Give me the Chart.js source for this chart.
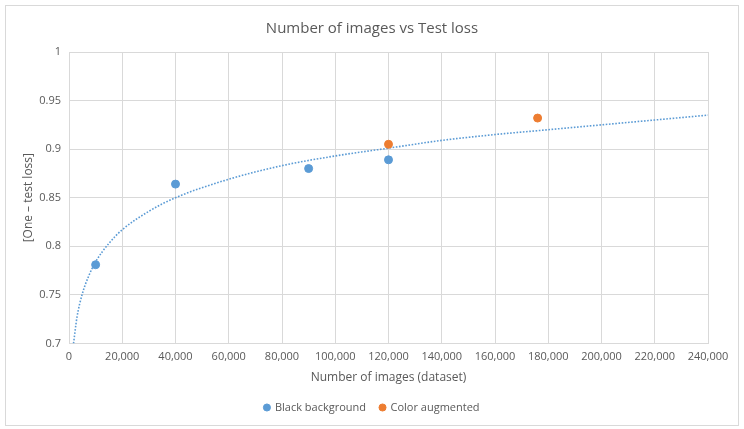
<!DOCTYPE html>
<html>
<head>
<meta charset="utf-8">
<script src="https://cdn.jsdelivr.net/npm/chart.js@4.4.1/dist/chart.umd.min.js"></script>
<style>
    body { margin: 0; background: #fff; }
    #frame {
        position: absolute; left: 5px; top: 5px;
        width: 732px; height: 419px;
        border: 1px solid #d9d9d9; background: #fff;
    }
    canvas { display: block; }
</style>
</head>
<body>
<div id="frame"><canvas id="chart" width="732" height="419"></canvas></div>
<script>
// ── Data ──
const blackX = [10000, 40000, 90000, 120000];
const blackY = [0.781, 0.864, 0.880, 0.889];
const colorX = [120000, 176000];
const colorY = [0.905, 0.932];

// Trendline (dotted curve)
const trendX = [1700, 3000, 5000, 7500, 10000, 15000, 20000, 30000, 40000, 60000, 80000, 100000, 120000, 140000, 160000, 180000, 200000, 220000, 240000];
const trendY = [0.700, 0.727, 0.751, 0.770, 0.784, 0.803, 0.817, 0.836, 0.850, 0.869, 0.883, 0.893, 0.901, 0.909, 0.915, 0.920, 0.925, 0.930, 0.935];

const xTicks = [0, 20000, 40000, 60000, 80000, 100000, 120000, 140000, 160000, 180000, 200000, 220000, 240000];
const yTicks = [0.7, 0.75, 0.8, 0.85, 0.9, 0.95, 1];

const TEXT = '#595959';
const GRID = '#d9d9d9';
const FONT = "'Open Sans', sans-serif";

const toPoints = (xs, ys) => xs.map((x, i) => ({ x: x, y: ys[i] }));

Chart.defaults.font.family = FONT;
Chart.defaults.color = TEXT;

new Chart(document.getElementById('chart'), {
    type: 'scatter',
    data: {
        datasets: [
            {
                label: 'Black background',
                data: toPoints(blackX, blackY),
                backgroundColor: '#5b9bd5',
                borderColor: '#5b9bd5',
                pointRadius: 4,
                pointStyle: 'circle'
            },
            {
                label: 'Color augmented',
                data: toPoints(colorX, colorY),
                backgroundColor: '#ed7d31',
                borderColor: '#ed7d31',
                pointRadius: 4,
                pointStyle: 'circle'
            },
            {
                label: 'trend',
                data: toPoints(trendX, trendY),
                showLine: true,
                borderColor: '#5b9bd5',
                borderWidth: 1.6,
                borderDash: [1.6, 1.6],
                pointRadius: 0,
                cubicInterpolationMode: 'monotone',
                fill: false
            }
        ]
    },
    options: {
        responsive: false,
        animation: false,
        // equal side padding keeps title and legend centred in the frame
        layout: { padding: { left: 30, right: 30, top: 4, bottom: 2 } },
        scales: {
            x: {
                type: 'linear',
                min: 0,
                max: 240000,
                afterBuildTicks: (s) => { s.ticks = xTicks.map(v => ({ value: v })); },
                ticks: {
                    color: TEXT,
                    font: { size: 11 },
                    padding: 7,
                    maxRotation: 0,
                    callback: (v) => v.toLocaleString('en-US')
                },
                grid: { color: GRID, drawTicks: false },
                border: { color: GRID },
                title: {
                    display: true,
                    text: 'Number of images (dataset)',
                    color: TEXT,
                    font: { size: 12 },
                    padding: { top: 0, bottom: 3 }
                }
            },
            y: {
                min: 0.7,
                max: 1,
                afterBuildTicks: (s) => { s.ticks = yTicks.map(v => ({ value: v })); },
                afterFit: (s) => { s.width = 33; },
                ticks: {
                    color: TEXT,
                    font: { size: 11 },
                    padding: 8,
                    callback: (v) => String(+v.toFixed(2))
                },
                grid: { color: GRID, drawTicks: false },
                border: { color: GRID },
                title: {
                    display: true,
                    text: '[One – test loss]',
                    color: TEXT,
                    font: { size: 12 },
                    padding: { top: -15, bottom: 0 }
                }
            }
        },
        plugins: {
            title: {
                display: true,
                text: 'Number of images vs Test loss',
                color: TEXT,
                font: { size: 15, weight: 'normal' },
                padding: { top: 10, bottom: 14 }
            },
            legend: {
                position: 'bottom',
                labels: {
                    usePointStyle: true,
                    pointStyle: 'circle',
                    boxWidth: 5,
                    boxHeight: 5,
                    padding: 14,
                    color: TEXT,
                    font: { size: 11 },
                    filter: (item) => item.text !== 'trend'
                }
            },
            tooltip: { enabled: false }
        }
    }
});
</script>
</body>
</html>
